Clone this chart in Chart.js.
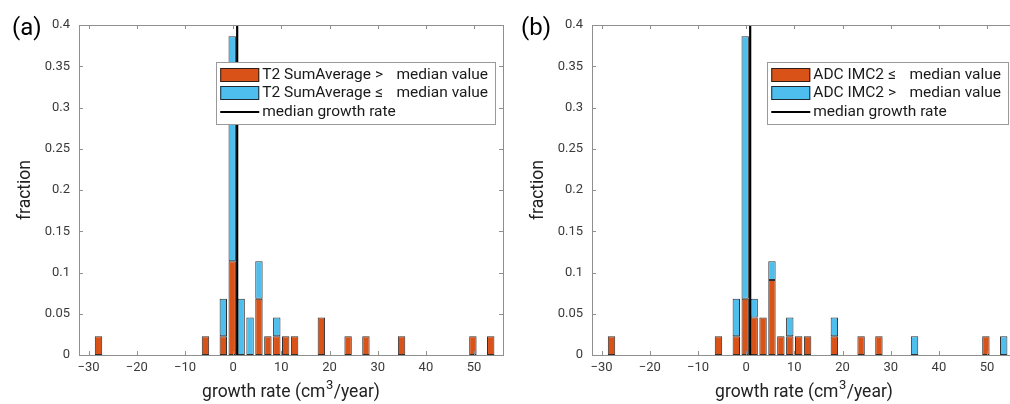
<!DOCTYPE html>
<html>
<head>
<meta charset="utf-8">
<script src="https://cdn.jsdelivr.net/npm/chart.js@4.4.0/dist/chart.umd.min.js"></script>
<style>
  html, body { margin: 0; padding: 0; background: #fff; width: 1010px; height: 404px; overflow: hidden; }
  .panel { position: absolute; top: 0; width: 515px; height: 404px; }
  .tag { position: absolute; top: 15px; font-family: Roboto, sans-serif; font-size: 24px; line-height: 24px; color: #000; }
</style>
</head>
<body>
<div class="panel" style="left:0"><canvas id="chartA" width="515" height="404"></canvas></div>
<div class="panel" style="left:513px"><canvas id="chartB" width="515" height="404"></canvas></div>
<div class="tag" style="left:12px">(a)</div>
<div class="tag" style="left:521px">(b)</div>
<script>
// === DATA ===
const xTicks = [-30, -20, -10, 0, 10, 20, 30, 40, 50];
const xTickLabels = ['\u221230', '\u221220', '\u221210', '0', '10', '20', '30', '40', '50'];
const yTicks = [0, 0.05, 0.1, 0.15, 0.2, 0.25, 0.3, 0.35, 0.4];
const yTickLabels = ['0', '0.05', '0.1', '0.15', '0.2', '0.25', '0.3', '0.35', '0.4'];

// histogram bin centres (cm3/year), only bins that hold something
const binCenters = [-27.95, -5.75, -2.05, -0.2, 1.65, 3.5, 5.35, 7.2, 9.05, 10.9, 12.75, 18.3, 23.85, 27.55, 34.95, 49.75, 53.45];

// (a) T2 SumAverage split
const sumAvgAbove = [0.0227, 0.0227, 0.0227, 0.1136, 0, 0, 0.0682, 0.0227, 0.0227, 0.0227, 0.0227, 0.0455, 0.0227, 0.0227, 0.0227, 0.0227, 0.0227];
const sumAvgBelow = [0, 0, 0.0455, 0.2727, 0.0682, 0.0455, 0.0455, 0, 0.0227, 0, 0, 0, 0, 0, 0, 0, 0];

// (b) ADC IMC2 split
const imc2Below = [0.0227, 0.0227, 0.0227, 0.0682, 0.0455, 0.0455, 0.0909, 0.0227, 0.0227, 0.0227, 0.0227, 0.0227, 0.0227, 0.0227, 0, 0.0227, 0];
const imc2Above = [0, 0, 0.0455, 0.3182, 0.0227, 0, 0.0227, 0, 0.0227, 0, 0, 0.0227, 0, 0, 0.0227, 0, 0.0227];

const medianGrowth = 0.83;

const ORANGE = '#D95319';
const BLUE = '#4DBEEE';
const EDGE = 'rgba(25,25,25,0.9)';
const AXIS = '#8f8f8f';

// === PLUGINS ===
// matlab style box with inward ticks on all four sides
const axesBox = {
    id: 'axesBox',
    afterDraw(chart) {
        const ctx = chart.ctx, a = chart.chartArea;
        const sx = chart.scales.x, sy = chart.scales.y;
        ctx.save();
        ctx.strokeStyle = AXIS;
        ctx.lineWidth = 1;
        ctx.beginPath();
        xTicks.forEach(v => {
            let px = Math.round(sx.getPixelForValue(v)) + 0.5;
            ctx.moveTo(px, a.bottom); ctx.lineTo(px, a.bottom - 4);
            ctx.moveTo(px, a.top); ctx.lineTo(px, a.top + 4);
        });
        yTicks.forEach(v => {
            let py = Math.round(sy.getPixelForValue(v)) + 0.5;
            ctx.moveTo(a.left, py); ctx.lineTo(a.left + 4, py);
            ctx.moveTo(a.right, py); ctx.lineTo(a.right - 4, py);
        });
        ctx.stroke();
        ctx.strokeRect(Math.round(a.left) + 0.5, Math.round(a.top) + 0.5, Math.round(a.right - a.left), Math.round(a.bottom - a.top));

        // x label with a real superscript 3
        let parts = ['growth rate (cm', '3', '/year)'];
        ctx.fillStyle = '#222';
        ctx.textBaseline = 'alphabetic';
        ctx.textAlign = 'left';
        ctx.font = '17.5px Roboto';
        let w0 = ctx.measureText(parts[0]).width, w2 = ctx.measureText(parts[2]).width;
        ctx.font = '13px Roboto';
        let w1 = ctx.measureText(parts[1]).width + 1;
        let x0 = (a.left + a.right) / 2 - (w0 + w1 + w2) / 2, base = 397;
        ctx.font = '17.5px Roboto';
        ctx.fillText(parts[0], x0, base);
        ctx.fillText(parts[2], x0 + w0 + w1, base);
        ctx.font = '13px Roboto';
        ctx.fillText(parts[1], x0 + w0 + 0.5, base - 8);
        ctx.restore();
    }
};

const legendBox = {
    id: 'legendBox',
    afterDraw(chart) {
        const ctx = chart.ctx, a = chart.chartArea;
        const sets = chart.data.datasets;
        ctx.save();
        ctx.font = '15.5px Roboto';
        let headW = Math.max(ctx.measureText(sets[0].label).width, ctx.measureText(sets[1].label).width);
        let tailW = ctx.measureText(sets[0].tail).width;
        let textW = Math.max(headW + 13.5 + tailW, ctx.measureText(sets[2].label).width);
        let w = 46 + textW + 7, h = 62;
        let left = a.right - 8 - w, top = a.top + 37;

        ctx.fillStyle = '#fff';
        ctx.fillRect(left, top, w, h);
        ctx.strokeStyle = '#9a9a9a';
        ctx.lineWidth = 1;
        ctx.strokeRect(Math.round(left) + 0.5, Math.round(top) + 0.5, Math.round(w), Math.round(h));

        let rows = [top + 13, top + 31, top + 50];
        ctx.textBaseline = 'middle';
        ctx.textAlign = 'left';
        for (let i = 0; i < 2; i++) {
            ctx.fillStyle = sets[i].backgroundColor;
            ctx.fillRect(left + 4, rows[i] - 7, 39, 14);
            ctx.strokeStyle = EDGE;
            ctx.strokeRect(left + 4.5, rows[i] - 6.5, 38, 13);
            ctx.fillStyle = '#1a1a1a';
            ctx.fillText(sets[i].label, left + 46, rows[i] + 0.5);
            ctx.fillText(sets[i].tail, left + 46 + headW + 13.5, rows[i] + 0.5);
        }
        ctx.strokeStyle = '#000';
        ctx.lineWidth = 2;
        ctx.beginPath();
        ctx.moveTo(left + 4, rows[2]); ctx.lineTo(left + 43, rows[2]);
        ctx.stroke();
        ctx.fillStyle = '#1a1a1a';
        ctx.fillText(sets[2].label, left + 46, rows[2] + 0.5);
        ctx.restore();
    }
};

// === CHART FACTORY ===
function makeChart(id, bottomVals, topVals, bottomLabel, topLabel) {
    let barStyle = {
        borderColor: EDGE,
        borderWidth: 1,
        borderSkipped: false,
        barPercentage: 0.83,
        categoryPercentage: 1
    };
    // empty bins -> null so no zero-height outline is drawn
    return new Chart(document.getElementById(id), {
        type: 'bar',
        data: {
            datasets: [
                Object.assign({
                    label: bottomLabel, tail: 'median value', order: 1,
                    data: binCenters.map((x, i) => ({ x: x, y: bottomVals[i] || null })),
                    backgroundColor: ORANGE
                }, barStyle),
                Object.assign({
                    label: topLabel, tail: 'median value', order: 2,
                    data: binCenters.map((x, i) => ({ x: x, y: topVals[i] || null })),
                    backgroundColor: BLUE
                }, barStyle),
                {
                    type: 'line', label: 'median growth rate', order: 0, stack: 'median',
                    data: [{ x: medianGrowth, y: yTicks[0] }, { x: medianGrowth, y: yTicks[yTicks.length - 1] }],
                    borderColor: '#000', borderWidth: 2.2, pointRadius: 0
                }
            ]
        },
        options: {
            responsive: false,
            animation: false,
            layout: { padding: { top: 25, right: 12, left: 0, bottom: 0 } },
            plugins: { legend: { display: false }, tooltip: { enabled: false } },
            scales: {
                x: {
                    type: 'linear', min: -32, max: 56, stacked: true, offset: false,
                    grid: { display: false, drawTicks: false },
                    border: { display: false },
                    afterBuildTicks: s => { s.ticks = xTicks.map(v => ({ value: v })); },
                    ticks: {
                        callback: (v, i) => xTickLabels[i],
                        font: { family: 'Roboto', size: 13 }, color: '#3a3a3a',
                        padding: 5, maxRotation: 0, autoSkip: false
                    },
                    title: { display: false },
                    afterFit: s => { s.height = 49; }
                },
                y: {
                    min: 0, max: 0.4, stacked: true,
                    grid: { display: false, drawTicks: false },
                    border: { display: false },
                    afterBuildTicks: s => { s.ticks = yTicks.map(v => ({ value: v })); },
                    ticks: {
                        callback: (v, i) => yTickLabels[i],
                        font: { family: 'Roboto', size: 13 }, color: '#3a3a3a',
                        padding: 9, autoSkip: false
                    },
                    title: {
                        display: true, text: 'fraction',
                        font: { family: 'Roboto', size: 17.5 }, color: '#222',
                        padding: { top: 15, bottom: 0 }
                    },
                    afterFit: s => { s.width = 79; }
                }
            }
        },
        plugins: [axesBox, legendBox]
    });
}

makeChart('chartA', sumAvgAbove, sumAvgBelow, 'T2 SumAverage >', 'T2 SumAverage \u2264');
makeChart('chartB', imc2Below, imc2Above, 'ADC IMC2 \u2264', 'ADC IMC2 >');
</script>
</body>
</html>
